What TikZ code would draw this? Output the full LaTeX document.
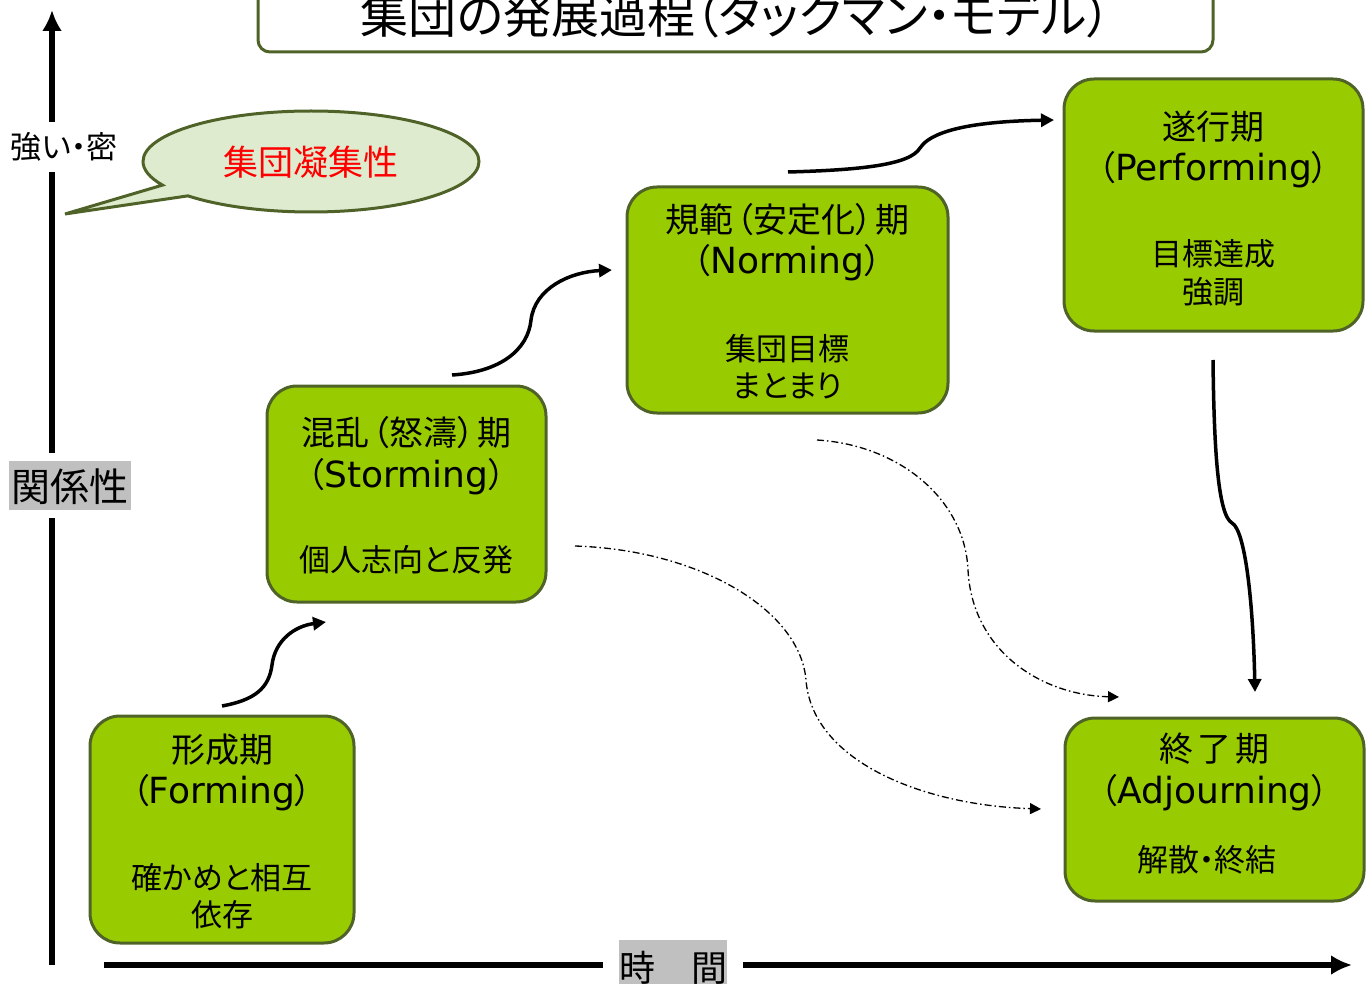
\documentclass[tikz,border=0pt]{standalone}
\usepackage{fontspec}
\setmainfont{Noto Sans CJK JP}[RawFeature=+palt]
\newfontfamily\latin{DejaVu Sans}
\newfontfamily\jpfull{Noto Sans CJK JP}
\usetikzlibrary{arrows.meta,shapes.callouts}
\definecolor{boxedge}{HTML}{4F6228}
\definecolor{boxfill}{HTML}{99CC00}
\definecolor{bubblefill}{HTML}{DFEBCF}
\definecolor{labelgray}{HTML}{C0C0C0}
\tikzset{
  stagebox/.style={draw=boxedge, fill=boxfill, line width=3pt, rounded corners=30pt, inner sep=0pt},
  headtext/.style={font=\fontsize{34}{36}\selectfont, inner sep=0pt},
  subtext/.style={font=\fontsize{31}{34}\selectfont, inner sep=0pt},
  axisline/.style={line width=6pt, -{Latex[length=21pt,width=20pt]}},
  flowarrow/.style={line width=3.5pt, -{Triangle[length=13pt,width=13pt]}},
  dasharrow/.style={line width=1.3pt, dash pattern=on 7pt off 3pt on 1.5pt off 3pt, -{Triangle[length=11pt,width=11pt]}},
}
\newcommand{\lname}[1]{（{\latin\fontsize{36}{38}\selectfont #1}）}
\newcommand{\opn}{\hspace{3pt}（}
\newcommand{\cls}{）\hspace{3pt}}
\begin{document}
\begin{tikzpicture}[x=1pt,y=-1pt]
\useasboundingbox (0,0) rectangle (1367,984);

% title
\node[draw=boxedge, line width=3pt, rounded corners=12pt, fill=white, minimum width=955pt, minimum height=80pt, inner sep=0pt] (titlebox) at (735.5,12) {};
\node[font=\fontsize{48}{50}\selectfont, inner sep=0pt] (titletext) at (736,15) {\scalebox{1.0}[1]{集団の発展過程（タックマン・モデル）}};

% axes
\coordinate (yorig) at (52,965);
\coordinate (ytop) at (52,10);
\coordinate (xorig) at (104,965);
\coordinate (xend) at (1352,965);
\draw[axisline] (yorig) -- (ytop);
\draw[axisline] (xorig) -- (xend);

\node[fill=white, inner xsep=1pt, inner ysep=11pt, font=\fontsize{31}{33}\selectfont] (strong) at (64,147) {強い・密};
\node[fill=labelgray, draw=white, line width=8pt, minimum width=130pt, minimum height=57pt, inner sep=0pt] (relbox) at (70,485.5) {};
\node[font=\fontsize{39}{42}\selectfont, inner sep=0pt] (rel) at (70,487) {関係性};
\node[fill=labelgray, draw=white, line width=16pt, minimum width=124pt, minimum height=66pt, inner sep=0pt] (timebox) at (673,965) {};
\node[font=\jpfull\fontsize{36}{40}\selectfont, inner sep=0pt] (time) at (673,968) {時　間};

% bubble
\node[ellipse callout, callout absolute pointer={(65,214)}, draw=boxedge, fill=bubblefill, line width=3pt, minimum width=336pt, minimum height=101pt, inner sep=0pt] (bubble) at (311,161.5) {};
\node[text=red, font=\fontsize{35}{38}\selectfont, inner sep=0pt] (cohesion) at (311,162) {集団凝集性};

% stage boxes
\node[stagebox, minimum width=264pt, minimum height=227pt] (forming) at (222,829.5) {};
\node[headtext] (f1) at (222,750) {形成期};
\node[headtext] (f2) at (222,793) {\lname{Forming}};
\node[subtext] (f3) at (222,878) {確かめと相互};
\node[subtext] (f4) at (222,915) {依存};

\node[stagebox, minimum width=279pt, minimum height=216pt] (storming) at (406.5,494) {};
\node[headtext] (s1) at (406.5,433) {混乱\opn 怒濤\cls 期};
\node[headtext] (s2) at (406.5,477) {\lname{Storming}};
\node[subtext] (s3) at (406.5,560) {個人志向と反発};

\node[stagebox, minimum width=321pt, minimum height=226pt] (norming) at (787.5,300) {};
\node[headtext] (n1) at (787.5,220) {規範\opn 安定化\cls 期};
\node[headtext] (n2) at (787.5,263) {\lname{Norming}};
\node[subtext] (n3) at (787.5,349) {集団目標};
\node[subtext] (n4) at (787.5,386) {まとまり};

\node[stagebox, minimum width=299pt, minimum height=252pt] (performing) at (1213.5,205) {};
\node[headtext] (p1) at (1213.5,127) {遂行期};
\node[headtext] (p2) at (1213.5,170) {\lname{Performing}};
\node[subtext] (p3) at (1213.5,254) {目標達成};
\node[subtext] (p4) at (1213.5,292) {強調};

\node[stagebox, minimum width=299pt, minimum height=183pt] (adjourning) at (1214.5,809.5) {};
\node[headtext] (a1) at (1214.5,749) {終\hspace{4pt}了\hspace{4pt}期};
\node[headtext] (a2) at (1214.5,793) {\lname{Adjourning}};
\node[subtext] (a3) at (1207,860) {解散・終結};

% connectors
\coordinate (c1s) at (222,706);
\coordinate (c1e) at (326,622);
\draw[flowarrow] (c1s) .. controls (255,700) and (269,688) .. (272,665) .. controls (275,640) and (295,626) .. (c1e);

\coordinate (c2s) at (452,375);
\coordinate (c2e) at (612,270);
\draw[flowarrow] (c2s) .. controls (500,372) and (528,350) .. (531,320) .. controls (535,288) and (570,272) .. (c2e);

\coordinate (c3s) at (788,172);
\coordinate (c3e) at (1054,120);
\draw[flowarrow] (c3s) .. controls (860,170) and (910,165) .. (920,148) .. controls (935,125) and (1000,121) .. (c3e);

\coordinate (c4s) at (1213,360);
\coordinate (c4e) at (1255,692);
\draw[flowarrow] (c4s) .. controls (1214,450) and (1218,515) .. (1232,523) .. controls (1245,530) and (1253,600) .. (c4e);

\coordinate (d1s) at (575,546);
\coordinate (d1e) at (1041,809);
\draw[dasharrow] (d1s) .. controls (700,550) and (800,610) .. (806,680) .. controls (812,760) and (920,805) .. (d1e);

\coordinate (d2s) at (817,440);
\coordinate (d2e) at (1119,697);
\draw[dasharrow] (d2s) .. controls (900,445) and (965,500) .. (968,570) .. controls (972,650) and (1040,695) .. (d2e);
\end{tikzpicture}
\end{document}
